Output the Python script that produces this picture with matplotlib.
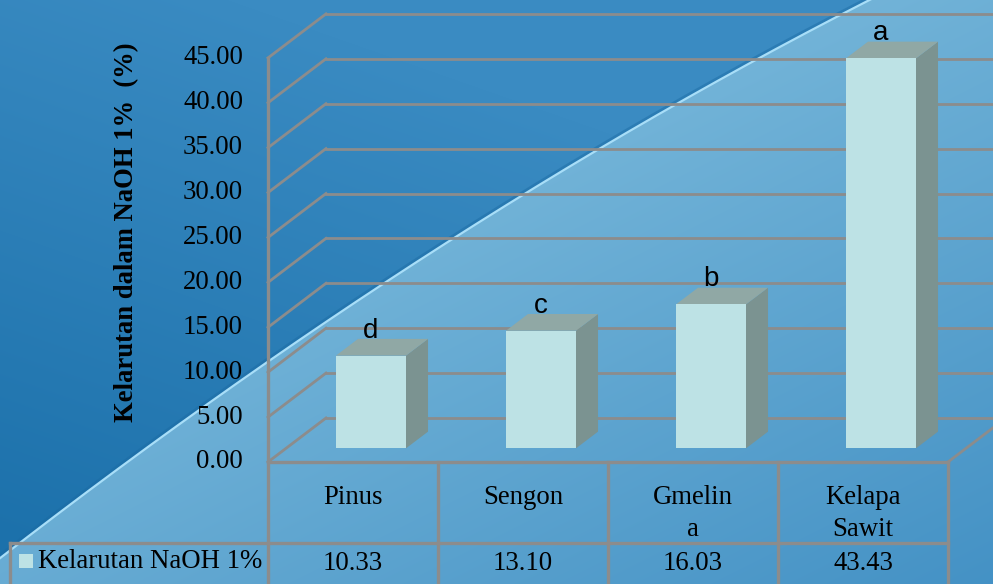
import numpy as np
import matplotlib
matplotlib.use("Agg")
import matplotlib.pyplot as plt
from matplotlib.patches import Polygon, Rectangle

# data
species = ["Pinus", "Sengon", "Gmelina", "Kelapa Sawit"]
header_lines = [["Pinus"], ["Sengon"], ["Gmelin", "a"], ["Kelapa", "Sawit"]]
naoh = [10.33, 13.10, 16.03, 43.43]
letters = ["d", "c", "b", "a"]
yticks = [0, 5, 10, 15, 20, 25, 30, 35, 40, 45]
series_name = "Kelarutan NaOH 1%"
ylabel = "Kelarutan dalam NaOH 1%  (%)"

W, H = 993, 584
fig = plt.figure(figsize=(W / 100, H / 100), dpi=100)

# ---- background: two blue gradient regions split by a curved diagonal
bg = fig.add_axes([0, 0, 1, 1], zorder=0)
bg.set_xlim(0, W)
bg.set_ylim(H, 0)
bg.axis("off")

knots = np.array([[0, 560], [233, 380], [300, 343], [387, 280],
                  [550, 178], [587, 160], [843, 13], [868, 0]])
coef = np.polyfit(knots[:, 0], knots[:, 1], 2)
sx = np.linspace(-5, 890, 300)
sy = np.polyval(coef, sx)
curve = np.column_stack([sx, sy])

yy, xx = np.mgrid[0:H, 0:W]

def gradient(c0, c1, t):
    c0 = np.array(matplotlib.colors.to_rgb(c0))
    c1 = np.array(matplotlib.colors.to_rgb(c1))
    t = np.clip(t, 0, 1)[..., None]
    return c0 * (1 - t) + c1 * t

dark = gradient("#3a8bc2", "#1c71ab", (yy - 0.35 * xx + 80) / 620)
light = gradient("#86c2e0", "#3f8ec3", ((xx - 300) * 0.45 + yy * 0.9) / 900)

light_poly = np.vstack([curve, [[W, -10], [W, H], [-5, H]]])
dark_poly = np.vstack([[[-5, -10], [890, -10]], curve[::-1]])

im1 = bg.imshow(light, extent=(0, W, H, 0), interpolation="bilinear")
im1.set_clip_path(Polygon(light_poly, closed=True, transform=bg.transData))
im2 = bg.imshow(dark, extent=(0, W, H, 0), interpolation="bilinear")
im2.set_clip_path(Polygon(dark_poly, closed=True, transform=bg.transData))
bg.plot(curve[:, 0] - 1.5, curve[:, 1] - 1.5, color="#1a6aa3", lw=2.5, alpha=0.45)
bg.plot(curve[:, 0], curve[:, 1], color="#a8def8", lw=1.6)
bg.set_xlim(0, W)
bg.set_ylim(H, 0)

# ---- chart axes in data units: 1 category per x unit, values on y
X0, Y0 = 268, 462
CAT_PX, UNIT_PX = 170, 8.98
ax = fig.add_axes([0, 0, 1, 1], zorder=1)
ax.set_xlim((0 - X0) / CAT_PX, (W - X0) / CAT_PX)
ax.set_ylim((Y0 - H) / UNIT_PX, Y0 / UNIT_PX)
ax.axis("off")
ax.patch.set_visible(False)

DX, DY = 58 / CAT_PX, 44 / UNIT_PX   # full depth of the 3D box
n = len(naoh)
grid = "#8c8c8c"
serif = "Liberation Serif"
fs = 19.3

# walls and gridlines
for v in yticks:
    ax.plot([0, DX], [v, v + DY], color=grid, lw=2, zorder=2)
    ax.plot([DX, n + DX + 1], [v + DY, v + DY], color=grid, lw=2, zorder=2)
    ax.text(-25 / CAT_PX, v, f"{v:.2f}", ha="right", va="center",
            fontsize=fs, family=serif, color="black")
ax.plot([n, n + DX], [0, DY], color=grid, lw=2, zorder=2)

# bars
BW = 70 / CAT_PX
BD = 0.38
F0 = (1 - BD) / 2
front_c, side_c, top_c = "#bde2e5", "#7b9391", "#90a8a5"
for i, v in enumerate(naoh):
    xl = i + (1 - BW) / 2 + F0 * DX
    yb = F0 * DY
    bx, by = BD * DX, BD * DY
    ax.add_patch(Polygon([(xl + BW, yb), (xl + BW + bx, yb + by),
                          (xl + BW + bx, yb + v + by), (xl + BW, yb + v)],
                         closed=True, fc=side_c, ec="none", zorder=3))
    ax.add_patch(Polygon([(xl, yb + v), (xl + BW, yb + v),
                          (xl + BW + bx, yb + v + by), (xl + bx, yb + v + by)],
                         closed=True, fc=top_c, ec="none", zorder=3))
    ax.add_patch(Rectangle((xl, yb), BW, v, fc=front_c, ec="none", zorder=4))
    ax.text(xl + BW / 2, yb + v + by + 0.15, letters[i], ha="center",
            va="baseline", fontsize=20, family="Liberation Sans", zorder=5)

# data table under the chart
row1 = -(543 - Y0) / UNIT_PX
bottom = (Y0 - H) / UNIT_PX - 1
left = (10 - X0) / CAT_PX
ax.plot([0, n], [0, 0], color=grid, lw=2.4, zorder=2)
ax.plot([left, n], [row1, row1], color=grid, lw=2.4, zorder=2)
for k in range(n + 1):
    top = 45 if k == 0 else 0
    ax.plot([k, k], [top, bottom], color=grid, lw=2.4, zorder=2)
ax.plot([left, left], [row1, bottom], color=grid, lw=2.4, zorder=2)

for i, lines in enumerate(header_lines):
    for j, s in enumerate(lines):
        ax.text(i + 0.5, -(498 + 32 * j - Y0) / UNIT_PX, s, ha="center",
                va="center", fontsize=fs, family=serif)
    ax.text(i + 0.5, -(564 - Y0) / UNIT_PX, f"{naoh[i]:.2f}", ha="center",
            va="center", fontsize=fs, family=serif)

ax.add_patch(Rectangle(((19 - X0) / CAT_PX, -(568 - Y0) / UNIT_PX),
                       14 / CAT_PX, 14 / UNIT_PX, fc=front_c, ec="none"))
ax.text((38 - X0) / CAT_PX, -(562 - Y0) / UNIT_PX, series_name, ha="left",
        va="center", fontsize=fs, family=serif)

ax.text((127 - X0) / CAT_PX, (Y0 - 232) / UNIT_PX, ylabel, rotation=90,
        ha="center", va="center", fontsize=19.2, family=serif,
        fontweight="bold")

fig.savefig("out.png", dpi=100)
